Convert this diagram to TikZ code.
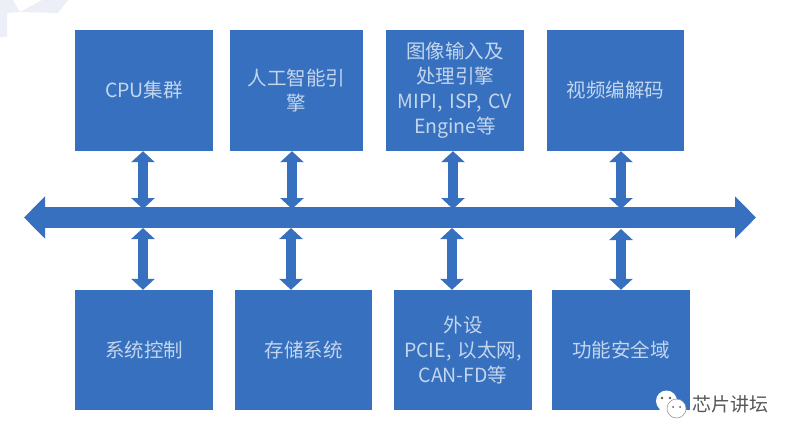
\documentclass[tikz,border=0pt]{standalone}
\usepackage{fontspec}
\setmainfont{Liberation Sans}
\newfontfamily\cjk{Noto Sans CJK SC}
\usetikzlibrary{arrows.meta}
\definecolor{blockblue}{RGB}{54,112,190}
\definecolor{blocktext}{RGB}{196,214,238}
\definecolor{markgray}{RGB}{88,88,88}
\definecolor{cornerpale}{RGB}{236,239,248}
\tikzset{
  x=1pt, y=-1pt,
  block/.style = {draw=none, fill=blockblue, text=blocktext, inner sep=2pt,
                  align=center, font=\fontsize{19.5}{25}\selectfont\cjk},
  link/.style = {blockblue, line width=10pt,
                 {Triangle[width=23pt,length=11pt]}-{Triangle[width=23pt,length=11pt]}},
  bus/.style = {blockblue, line width=21pt,
                {Triangle[width=41pt,length=21pt]}-{Triangle[width=41pt,length=21pt]}},
  bubble/.style = {circle, draw=none, fill=white, inner sep=0},
}
\begin{document}
\begin{tikzpicture}
\useasboundingbox (0,0) rectangle (794,440);
% corner of the page
\fill[cornerpale] (0,0) -- (13,0) -- (20,12) -- (7,13) -- (7,37) -- (0,37) -- cycle;
\fill[cornerpale] (20,12) -- (42,0) -- (68,0) -- (58,13) -- cycle;
% upper row
\node[block, text width=134pt, minimum height=121pt] (cpu) at (144,90.5) {CPU集群};
\node[block, text width=129pt, minimum height=121pt] (ai) at (296.5,90.5) {人工智能引\\擎};
\node[block, text width=134pt, minimum height=121pt] (img) at (455,90.5) {图像输入及\\处理引擎\\MIPI, ISP, CV\\Engine等};
\node[block, text width=133pt, minimum height=121pt] (vid) at (615.5,90.5) {视频编解码};
% lower row
\node[block, text width=134pt, minimum height=120pt] (sys) at (144,350) {系统控制};
\node[block, text width=133pt, minimum height=120pt] (mem) at (303.5,350) {存储系统};
\node[block, text width=134pt, minimum height=120pt] (per) at (463,350) {外设\\PCIE, 以太网,\\CAN-FD等};
\node[block, text width=134pt, minimum height=120pt] (safe) at (621,350) {功能安全域};
% bus
\coordinate (busL) at (24,217.5);
\coordinate (busR) at (756,217.5);
\draw[bus] (busL) -- (busR);
% links to the bus
\coordinate (t1) at (143,209);
\coordinate (t2) at (292,209);
\coordinate (t3) at (453,209);
\coordinate (t4) at (621,209);
\coordinate (b1) at (143,228);
\coordinate (b2) at (291,228);
\coordinate (b3) at (452,228);
\coordinate (b4) at (621,229);
\draw[link] (t1 |- cpu.south) -- (t1);
\draw[link] (t2 |- ai.south) -- (t2);
\draw[link] (t3 |- img.south) -- (t3);
\draw[link] (t4 |- vid.south) -- (t4);
\draw[link] (b1) -- (b1 |- sys.north);
\draw[link] (b2) -- (b2 |- mem.north);
\draw[link] (b3) -- (b3 |- per.north);
\draw[link] (b4) -- (b4 |- safe.north);
% watermark
\node[bubble, minimum width=21pt, minimum height=18pt] (bigb) at (666.5,401) {};
\fill[white] (660,407) -- (659,415) -- (667,409) -- cycle;
\node[bubble, draw=markgray!70, line width=.5pt, minimum width=19pt, minimum height=17pt] (smallb) at (676.5,408.5) {};
\fill[markgray] (662,398) circle (1.3) (670,398) circle (1.3) (673,407) circle (1) (680,407) circle (1);
\node[text=markgray, font=\fontsize{19}{20}\selectfont\cjk, inner sep=0] (mark) at (730.5,404) {芯片讲坛};
\end{tikzpicture}
\end{document}
